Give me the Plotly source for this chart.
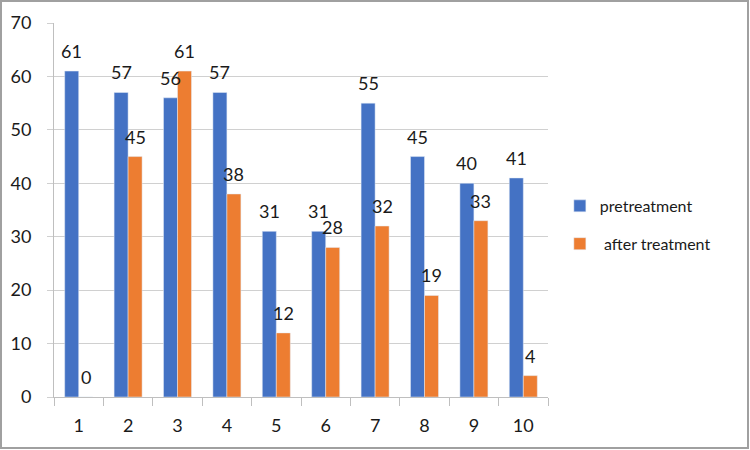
import plotly.graph_objects as go

categories = ["1", "2", "3", "4", "5", "6", "7", "8", "9", "10"]
pretreatment = [61, 57, 56, 57, 31, 31, 55, 45, 40, 41]
after_treatment = [0, 45, 61, 38, 12, 28, 32, 19, 33, 4]

font_family = "Lato, Open Sans, Liberation Sans, sans-serif"
BLUE, ORANGE = "#4472C4", "#ED7D31"

fig = go.Figure()
fig.add_trace(go.Bar(x=categories, y=pretreatment, name="pretreatment",
                     marker_color=BLUE, legendgroup="a"))
fig.add_trace(go.Bar(x=categories, y=after_treatment, name=" after treatment",
                     marker_color=ORANGE, legendgroup="b"))

# category axis: annotation x uses the category serial number
annotations = []
for series, shift in ((pretreatment, -7), (after_treatment, 7)):
    for i, v in enumerate(series):
        annotations.append(dict(x=i, y=v, xref="x", yref="y", text=str(v),
                                showarrow=False, xshift=shift, yshift=20,
                                yanchor="middle",
                                font=dict(size=18, color="#1a1a1a")))

W, H = 750, 450
l, r, t, b = 54, 202, 23, 53
pw, ph = W - l - r, H - t - b

fig.update_layout(
    width=W, height=H,
    margin=dict(l=l, r=r, t=t, b=b),
    paper_bgcolor="white", plot_bgcolor="white",
    font=dict(family=font_family, size=18, color="#1a1a1a"),
    barmode="group", bargap=0.433, bargroupgap=0,
    showlegend=True,
    legend=dict(x=1.024, y=0.46, yanchor="middle", xanchor="left",
                font=dict(size=16), itemwidth=30, tracegroupgap=14,
                bgcolor="rgba(0,0,0,0)"),
    annotations=annotations,
    shapes=[dict(type="rect", xref="paper", yref="paper",
                 x0=(1 - l) / pw, x1=(W - 2 - l) / pw,
                 y0=-(H - 2 - t - ph) / ph, y1=(ph + t - 1) / ph,
                 line=dict(color="#a0a0a0", width=2), layer="above")],
)
fig.update_xaxes(
    type="category", range=[-0.5, len(categories) - 0.5],
    showgrid=False, showline=True, linecolor="#bfbfbf",
    linewidth=1, ticks="outside", tickson="boundaries", ticklen=8,
    tickcolor="#bfbfbf", tickfont=dict(size=18), ticklabelstandoff=12,
)
fig.update_yaxes(
    range=[0, 70], dtick=10, showgrid=True, gridcolor="#d0d0d0",
    showline=True, linecolor="#bfbfbf", ticks="outside", ticklen=6,
    tickcolor="#d0d0d0", tickfont=dict(size=18), zeroline=False,
    ticklabelstandoff=12,
)

fig.write_html("out.html", config={"displayModeBar": False},
               post_script="document.body.style.margin='0';document.body.style.overflow='hidden';")
